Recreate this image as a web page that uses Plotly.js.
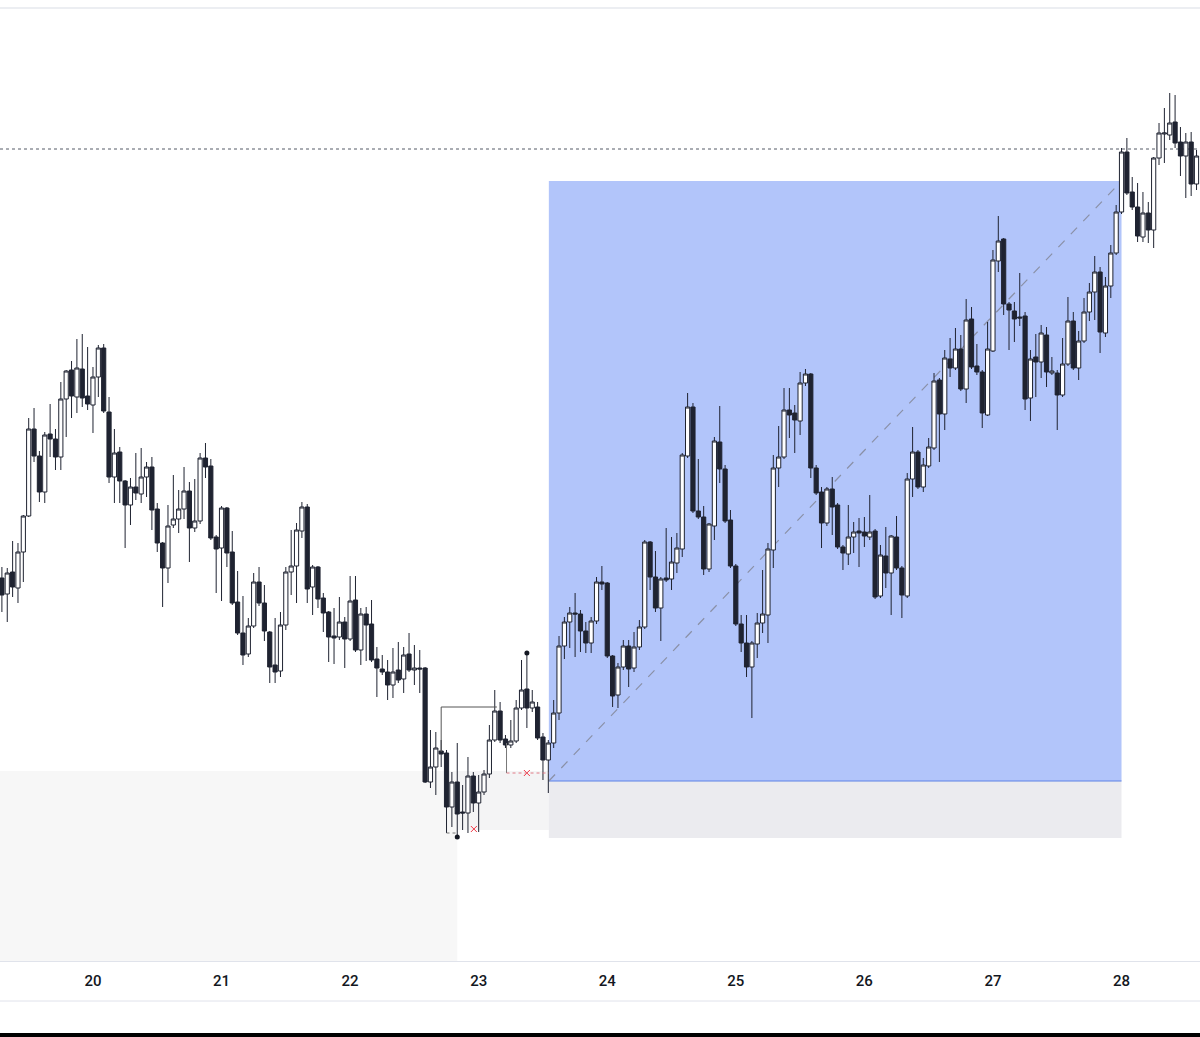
<!DOCTYPE html>
<html>
<head>
<meta charset="utf-8">
<script src="https://cdn.plot.ly/plotly-3.0.1.min.js"></script>
<style>html,body{margin:0;padding:0;background:#fff;}#chart{width:1200px;height:1037px;}</style>
</head>
<body>
<div id="chart"></div>
<script>
// Hourly candles, first candle = 19th 07:00
const open  = [422,406,428,412,448,484,571,544,508,566,561,543,601,630,603,631,604,595,623,652,588,523,548,519,495,513,506,523,533,491,457,432,475,481,491,509,472,479,542,534,463,452,492,448,398,367,346,374,418,397,368,335,329,375,428,434,469,493,413,433,402,388,364,363,378,361,400,350,386,376,341,331,328,315,330,321,346,330,332,332,218,233,249,247,193,218,188,187,224,197,208,226,260,289,261,255,259,292,311,292,293,263,240,257,287,354,378,387,386,369,357,379,418,417,344,305,333,354,332,353,373,458,423,392,422,421,437,451,544,593,489,483,431,474,558,531,480,434,376,357,333,356,377,385,450,532,543,590,587,579,617,626,532,508,477,511,495,453,446,463,469,468,463,469,404,444,427,463,432,404,521,548,513,534,552,620,586,641,632,651,611,681,634,628,585,649,739,761,696,689,683,684,602,643,638,665,627,627,605,636,679,632,659,688,708,728,667,714,747,788,848,808,793,763,787,770,842,866,865,878,858,844,858,816];
const high  = [433,432,459,457,485,582,592,549,568,596,571,618,630,639,661,666,653,633,655,656,603,571,553,520,522,547,552,538,543,497,458,495,525,510,533,518,521,547,557,541,465,494,493,469,429,404,382,427,433,415,369,382,388,433,470,477,498,496,435,434,407,389,392,403,383,424,424,392,393,400,353,345,340,352,358,353,367,355,350,333,270,268,260,250,228,257,215,243,228,225,230,275,310,298,265,280,300,340,347,310,298,267,260,300,364,383,393,407,390,378,383,423,434,418,345,337,360,360,368,380,460,459,449,423,472,463,467,547,607,597,541,494,477,563,594,535,490,436,385,385,359,387,430,457,545,574,612,612,595,628,631,627,535,513,513,523,497,455,495,478,482,483,505,471,455,473,465,484,434,527,573,550,542,562,627,622,650,662,672,665,701,693,656,630,678,750,784,762,698,698,727,688,650,666,675,673,643,630,662,703,688,669,702,717,744,733,723,755,795,852,862,823,817,808,798,843,877,892,907,905,873,867,868,850];
const low   = [388,378,403,397,418,483,538,498,497,543,530,530,563,582,587,593,590,567,603,587,517,497,497,452,475,500,497,503,470,448,393,417,472,467,481,438,468,476,522,460,407,399,433,395,365,335,343,372,394,359,317,317,323,370,405,397,462,397,385,392,368,338,336,360,332,359,348,335,339,338,303,325,300,302,317,307,328,315,307,217,212,205,233,167,173,163,170,167,188,168,205,222,258,257,252,252,257,290,272,288,260,220,207,252,280,341,352,343,348,347,347,376,410,342,293,292,330,313,328,350,371,410,388,359,418,410,427,443,542,487,481,425,428,460,517,477,432,374,348,323,282,342,367,357,432,513,541,562,547,565,614,522,505,452,474,465,451,430,435,447,433,453,460,401,402,412,385,430,382,402,503,511,508,532,550,538,570,623,630,609,597,631,625,572,584,648,728,685,650,658,674,590,579,603,622,613,625,570,603,634,630,620,657,679,680,647,663,702,745,786,805,790,758,758,757,752,835,837,860,852,824,802,804,810];
const close = [405,427,413,448,484,571,544,508,565,561,543,601,629,604,632,602,596,623,652,589,523,547,519,495,513,507,523,533,490,457,432,474,481,491,509,472,479,542,533,462,451,492,447,397,367,345,374,418,397,369,333,328,375,428,434,470,493,411,433,401,387,363,362,378,361,399,350,386,375,340,332,328,315,328,320,345,330,332,331,218,233,252,246,193,218,186,187,224,197,208,226,260,289,260,255,259,292,310,292,298,262,240,257,287,354,378,387,386,369,357,379,418,416,344,304,333,354,331,353,373,458,423,392,421,420,438,452,545,593,489,483,431,476,559,531,479,434,376,357,333,357,377,386,451,532,543,590,585,580,617,626,532,507,477,511,493,453,447,463,468,467,464,468,403,445,427,464,432,405,521,548,513,535,553,619,586,642,632,651,611,680,633,628,587,651,740,759,696,690,681,682,601,641,638,667,628,629,605,636,679,632,659,688,708,728,668,714,747,788,848,807,793,764,787,770,842,867,867,877,857,844,858,816,844];
const dayLabels = ['20','21','22','23','24','25','26','27','28'];
// marked levels on the chart (candle index, price)
const swingDots  = {idx:[98, 85], price:[347, 163]};
const crossMarks = {idx:[88.1, 98], price:[171, 227]};
const zoneTop = 229, zoneMid = 170, boxLow = 219, boxHigh = 819, boxStop = 162, refLevel = 851;

const base = Date.UTC(2024,0,19,7,0);
function t(k){ return new Date(base + k*3600000).toISOString().slice(0,23).replace('T',' '); }
const x = open.map((_,i)=>t(i));

const dark = '#1f2331';
const trace = {
  type:'candlestick', x:x, open:open, high:high, low:low, close:close,
  increasing:{line:{color:dark,width:1}, fillcolor:'#ffffff'},
  decreasing:{line:{color:dark,width:1}, fillcolor:dark},
  whiskerwidth:0, hoverinfo:'skip', showlegend:false
};
const dots = {type:'scatter', mode:'markers', x:swingDots.idx.map(t), y:swingDots.price,
  marker:{color:'#131722', size:5}, hoverinfo:'skip', showlegend:false};
const crosses = {type:'scatter', mode:'markers', x:crossMarks.idx.map(t), y:crossMarks.price,
  marker:{color:'#f23645', size:6, symbol:'x-thin', line:{color:'#f23645',width:1}}, hoverinfo:'skip', showlegend:false};

const L = -0.355, R = 223.65, S = 102.1, E = 209;
const shapes = [
  {type:'rect', layer:'below', xref:'x', yref:'y', x0:t(L), x1:t(85), y0:0, y1:zoneTop, fillcolor:'#f7f7f7', line:{width:0}},
  {type:'rect', layer:'below', xref:'x', yref:'y', x0:t(85), x1:t(S), y0:zoneMid, y1:zoneTop, fillcolor:'#f4f4f5', line:{width:0}},
  {type:'rect', layer:'below', xref:'x', yref:'y', x0:t(S), x1:t(E), y0:boxLow, y1:boxHigh, fillcolor:'#b2c5fa', line:{width:0}},
  {type:'rect', layer:'below', xref:'x', yref:'y', x0:t(S), x1:t(E), y0:boxStop, y1:boxLow, fillcolor:'#ebebef', line:{width:0}},
  {type:'line', layer:'below', xref:'x', yref:'y', x0:t(S), x1:t(E), y0:boxLow, y1:boxLow, line:{color:'#5d81e6',width:1}},
  {type:'line', layer:'below', xref:'x', yref:'y', x0:t(S), x1:t(E), y0:boxLow, y1:boxHigh, line:{color:'#8a90a6',width:1.2,dash:'dash'}},
  {type:'line', layer:'below', xref:'paper', yref:'y', x0:0, x1:1, y0:refLevel, y1:refLevel, line:{color:'#555a66',width:1,dash:'dot'}},
  {type:'line', xref:'x', yref:'y', x0:t(82), x1:t(82), y0:248, y1:293, line:{color:'#555',width:1}},
  {type:'line', xref:'x', yref:'y', x0:t(82), x1:t(92.4), y0:293, y1:293, line:{color:'#555',width:1}},
  {type:'line', xref:'x', yref:'y', x0:t(83), x1:t(85), y0:167, y1:167, line:{color:'#777',width:1,dash:'dot'}},
  {type:'line', xref:'x', yref:'y', x0:t(94.2), x1:t(94.2), y0:227, y1:257, line:{color:'#777',width:1}},
  {type:'line', xref:'x', yref:'y', x0:t(94.2), x1:t(S), y0:227, y1:227, line:{color:'#e07a86',width:1,dash:'dot'}},
  // frame lines
  {type:'line', xref:'paper', yref:'paper', x0:0, x1:1, y0:1, y1:1, line:{color:'#e6e8ee',width:1.5}},
  {type:'line', xref:'paper', yref:'paper', x0:0, x1:1, y0:-0.042, y1:-0.042, line:{color:'#e0e3eb',width:1}},
  {type:'rect', xref:'paper', yref:'paper', x0:0, x1:1, y0:-0.0797, y1:-0.0756, fillcolor:'#000', line:{width:0}}
];

const layout = {
  width:1200, height:1037, margin:{l:0,r:0,t:8,b:76},
  paper_bgcolor:'#ffffff', plot_bgcolor:'#ffffff',
  showlegend:false, hovermode:false, boxgap:0.22, boxgroupgap:0,
  xaxis:{type:'date', range:[t(L), t(R)], rangeslider:{visible:false},
    tickvals: dayLabels.map((_,i)=>t(17+24*i)), ticktext: dayLabels,
    showgrid:false, zeroline:false, showline:true, linecolor:'#e0e3eb', linewidth:1,
    ticks:'outside', ticklen:6, tickcolor:'rgba(0,0,0,0)',
    tickfont:{family:'Roboto', size:15, color:'#131722', weight:500}},
  yaxis:{range:[39,992], showgrid:false, zeroline:false, showticklabels:false, showline:false, fixedrange:true},
  shapes:shapes
};
Plotly.newPlot('chart', [trace, dots, crosses], layout, {displayModeBar:false, staticPlot:true});
</script>
</body>
</html>
